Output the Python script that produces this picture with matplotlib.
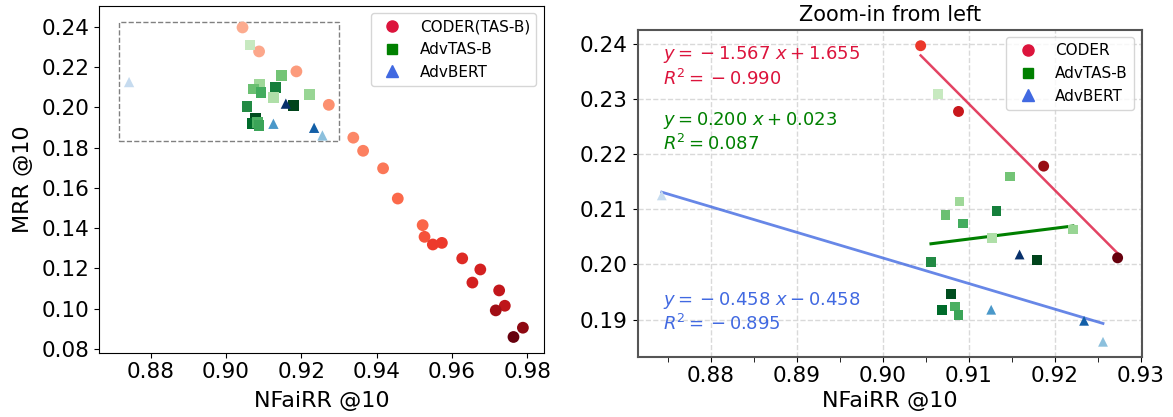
import numpy as np
import matplotlib
matplotlib.use("Agg")
import matplotlib.pyplot as plt
from matplotlib.patches import Rectangle
from matplotlib.lines import Line2D
from matplotlib.ticker import MultipleLocator

# ---------------- data ----------------
coder_x = [0.9044, 0.9088, 0.9187, 0.9273, 0.9338, 0.9364, 0.9417, 0.9456, 0.9522, 0.9527,
           0.9549, 0.9573, 0.9627, 0.9675, 0.9654, 0.9725, 0.9740, 0.9716, 0.9788, 0.9763]
coder_y = [0.2396, 0.2277, 0.2178, 0.2012, 0.1849, 0.1784, 0.1697, 0.1547, 0.1415, 0.1357,
           0.1319, 0.1327, 0.1250, 0.1195, 0.1130, 0.1091, 0.1015, 0.0992, 0.0906, 0.0860]
coder_shade = [0.30, 0.31, 0.35, 0.38, 0.41, 0.43, 0.46, 0.50, 0.51, 0.56,
               0.63, 0.63, 0.68, 0.72, 0.72, 0.78, 0.79, 0.88, 0.92, 1.00]
coder_zoom_shade = [0.64, 0.76, 0.90, 1.00]

advtas_x = [0.9064, 0.9148, 0.9089, 0.9073, 0.9093, 0.9132, 0.9127, 0.9221, 0.9056, 0.9179,
            0.9079, 0.9069, 0.9084, 0.9088]
advtas_y = [0.2309, 0.2159, 0.2114, 0.2090, 0.2074, 0.2097, 0.2048, 0.2063, 0.2005, 0.2008,
            0.1946, 0.1918, 0.1924, 0.1909]
advtas_shade = [0.25, 0.50, 0.38, 0.52, 0.62, 0.80, 0.33, 0.40, 0.75, 1.00,
                0.97, 0.88, 0.60, 0.65]

advbert_x = [0.8743, 0.9159, 0.9126, 0.9234, 0.9256]
advbert_y = [0.2125, 0.2018, 0.1918, 0.1898, 0.1860]
advbert_shade = [0.25, 1.00, 0.60, 0.82, 0.42]

zoom_box = [0.8717, 0.9301, 0.1833, 0.2425]  # x0, x1, y0, y1
n_zoom_coder = 4

eq_coder = r"$y = \,{-}\:1.567\ x + 1.655$" + "\n" + r"$R^2 = \,{-}\:0.990$"
eq_advtas = r"$y = 0.200\ x + 0.023$" + "\n" + r"$R^2 = 0.087$"
eq_advbert = r"$y = \,{-}\:0.458\ x - 0.458$" + "\n" + r"$R^2 = \,{-}\:0.895$"

# ---------------- figure ----------------
W, H = 1173, 417
fig = plt.figure(figsize=(W / 100, H / 100), dpi=100)

def px_axes(l, t, r, b):
    return fig.add_axes([l / W, 1 - b / H, (r - l) / W, (b - t) / H])

ax1 = px_axes(99.3, 5.7, 544, 352.7)
ax2 = px_axes(637.7, 29.7, 1141.7, 356.7)

Reds, Greens, Blues = plt.get_cmap("Reds"), plt.get_cmap("Greens"), plt.get_cmap("Blues")
TICK_FS = 15.5
LABEL_FS = 16

# ---- left panel ----
ax1.scatter(coder_x, coder_y, c=[Reds(v) for v in coder_shade], s=72, marker="o", linewidths=0, zorder=3)
ax1.scatter(advtas_x, advtas_y, c=[Greens(v) for v in advtas_shade], s=58, marker="s", linewidths=0, zorder=3)
ax1.scatter(advbert_x, advbert_y, c=[Blues(v) for v in advbert_shade], s=55, marker="^", linewidths=0, zorder=3)
ax1.add_patch(Rectangle((zoom_box[0], zoom_box[2]), zoom_box[1] - zoom_box[0], zoom_box[3] - zoom_box[2],
                        fill=False, ls="--", ec="gray", lw=1))
ax1.set_xlim(0.8664, 0.9844)
ax1.set_ylim(0.0782, 0.2504)
ax1.xaxis.set_major_locator(MultipleLocator(0.02))
ax1.yaxis.set_major_locator(MultipleLocator(0.02))
ax1.tick_params(labelsize=TICK_FS)
ax1.set_xlabel("NFaiRR @10", fontsize=LABEL_FS, labelpad=6)
ax1.set_ylabel("MRR @10", fontsize=LABEL_FS, labelpad=6)

handles1 = [
    Line2D([], [], ls="none", marker="o", color="crimson", markersize=8),
    Line2D([], [], ls="none", marker="s", color="green", markersize=7),
    Line2D([], [], ls="none", marker="^", color="royalblue", markersize=8),
]
ax1.legend(handles1, ["CODER(TAS-B)", "AdvTAS-B", "AdvBERT"], loc="upper right", fontsize=11)

# ---- right panel ----
zx, zy = coder_x[:n_zoom_coder], coder_y[:n_zoom_coder]
ax2.scatter(zx, zy, c=[Reds(v) for v in coder_zoom_shade], s=62, marker="o", linewidths=0, zorder=3)
ax2.scatter(advtas_x, advtas_y, c=[Greens(v) for v in advtas_shade], s=48, marker="s", linewidths=0, zorder=3)
ax2.scatter(advbert_x, advbert_y, c=[Blues(v) for v in advbert_shade], s=50, marker="^", linewidths=0, zorder=3)

def fit_line(ax, xs, ys, color, lw, alpha):
    xs, ys = np.asarray(xs), np.asarray(ys)
    k, b = np.polyfit(xs, ys, 1)
    xx = np.array([xs.min(), xs.max()])
    ax.plot(xx, k * xx + b, color=color, lw=lw, alpha=alpha, zorder=2)

fit_line(ax2, zx, zy, "crimson", 1.8, 0.8)
fit_line(ax2, advtas_x, advtas_y, "green", 2.2, 1.0)
fit_line(ax2, advbert_x, advbert_y, "royalblue", 2.0, 0.8)

ax2.text(0.05, 0.955, eq_coder, transform=ax2.transAxes, color="crimson", fontsize=13, va="top", ha="left")
ax2.text(0.05, 0.755, eq_advtas, transform=ax2.transAxes, color="green", fontsize=13, va="top", ha="left")
ax2.text(0.05, 0.205, eq_advbert, transform=ax2.transAxes, color="royalblue", fontsize=13, va="top", ha="left")

ax2.set_xlim(zoom_box[0] - 0.0002, zoom_box[1])
ax2.set_ylim(zoom_box[2], zoom_box[3])
ax2.xaxis.set_major_locator(MultipleLocator(0.01))
ax2.xaxis.set_minor_locator(MultipleLocator(0.005))
ax2.yaxis.set_major_locator(MultipleLocator(0.01))
ax2.grid(True, which="major", ls="--", color="#d9d9d9", lw=1)
ax2.set_axisbelow(True)
for sp in ax2.spines.values():
    sp.set_color("#555555")
    sp.set_linewidth(1.5)
ax2.tick_params(labelsize=TICK_FS)
ax2.tick_params(which="minor", length=3.5)
ax2.set_xlabel("NFaiRR @10", fontsize=LABEL_FS, labelpad=3)
ax2.set_title("Zoom-in from left", fontsize=15)

handles2 = [
    Line2D([], [], ls="none", marker="o", color="crimson", markersize=8),
    Line2D([], [], ls="none", marker="s", color="green", markersize=7),
    Line2D([], [], ls="none", marker="^", color="royalblue", markersize=8),
]
ax2.legend(handles2, ["CODER", "AdvTAS-B", "AdvBERT"], loc="upper right", fontsize=11)

fig.savefig("out.png", dpi=100)
